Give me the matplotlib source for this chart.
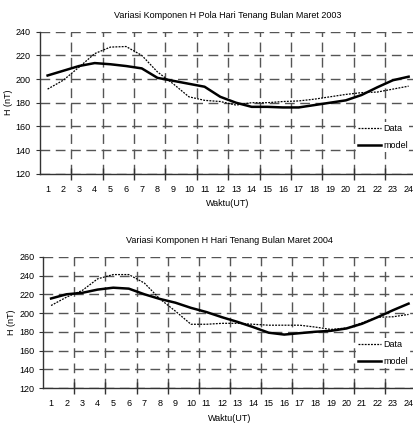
import matplotlib
matplotlib.use("Agg")
import matplotlib.pyplot as plt
import numpy as np

plt.rcParams['font.family'] = ['Liberation Sans', 'DejaVu Sans']

jam = list(range(1, 25))

# Maret 2003
data_2003 = [191.5, 199, 210, 221.5, 227, 227.5, 220, 206, 196, 185, 182, 181,
             178, 180, 180, 181, 181.5, 183, 185, 187, 188.5, 189, 191.5, 194]
model_2003 = [203, 207, 211, 213.5, 212.5, 211, 209, 201, 198.5, 196, 193.5, 185,
              180, 176.5, 176.5, 176, 176, 178, 180, 182, 186.5, 193, 199, 202]

# Maret 2004
data_2004 = [208, 217, 224, 236.5, 241, 241, 232, 215, 202, 188, 188, 189,
             189, 188, 187, 187, 187, 185, 182.5, 184, 189.5, 195.5, 196, 198.5]
model_2004 = [215.5, 220, 221.5, 225, 227, 226, 220, 215, 211, 205.5, 201, 195.5,
              190.5, 185, 179, 177, 178.5, 180, 181, 183.5, 188.5, 195.5, 203, 210]

judul = ["Variasi Komponen H Pola Hari Tenang Bulan Maret 2003",
         "Variasi Komponen H Hari Tenang Bulan Maret 2004"]
yticks_list = [list(range(120, 241, 20)), list(range(120, 261, 20))]

fig = plt.figure(figsize=(4.14, 4.23), dpi=100)
ax1 = fig.add_axes([0.096, 0.5894, 0.91, 0.3356])
ax2 = fig.add_axes([0.1046, 0.0827, 0.901, 0.3103])

grid_kw = dict(color='#555555', linestyle=(0, (7, 4)), linewidth=1.0)

for ax, d, m, t, yt, leg_y in [(ax1, data_2003, model_2003, judul[0], yticks_list[0], 0.676),
                               (ax2, data_2004, model_2004, judul[1], yticks_list[1], 0.166)]:
    ax.plot(jam, d, color='black', linestyle=(0, (1.5, 1)), linewidth=0.9, label='Data')
    ax.plot(jam, m, color='black', linewidth=1.8, label='model')
    ax.set_xlim(0.5, 24.5)
    ax.set_ylim(yt[0], yt[-1])
    ax.set_yticks(yt)
    ax.set_xticks(jam)
    ax.set_xticks(np.arange(2.5, 24, 2), minor=True)
    ax.tick_params(axis='x', which='major', length=0, labelsize=6.5, pad=8)
    ax.tick_params(axis='x', which='minor', direction='inout', length=8, width=1, color='#333333')
    ax.tick_params(axis='y', which='major', direction='out', length=3, labelsize=6.5, color='#333333')
    ax.grid(axis='y', which='major', **grid_kw)
    ax.grid(axis='x', which='minor', **grid_kw)
    for s in ['top', 'right']:
        ax.spines[s].set_visible(False)
    for s in ['left', 'bottom']:
        ax.spines[s].set_color('#333333')
        ax.spines[s].set_linewidth(1.0)
    ax.set_title(t, fontsize=6.5, pad=10)
    ax.set_ylabel('H (nT)', fontsize=6.5)
    ax.yaxis.set_label_coords(-0.072, 0.5)
    ax.set_xlabel('Waktu(UT)', fontsize=6.5, labelpad=4)
    leg = ax.legend(loc='center right', bbox_to_anchor=(1.0, leg_y), bbox_transform=fig.transFigure,
                    fontsize=6.5, frameon=True, handlelength=2.6, handletextpad=0.2,
                    labelspacing=0.9, borderpad=0.2)
    leg.get_frame().set_facecolor('white')
    leg.get_frame().set_edgecolor('none')
    leg.get_frame().set_alpha(1)

fig.savefig('out.png', dpi=100)
